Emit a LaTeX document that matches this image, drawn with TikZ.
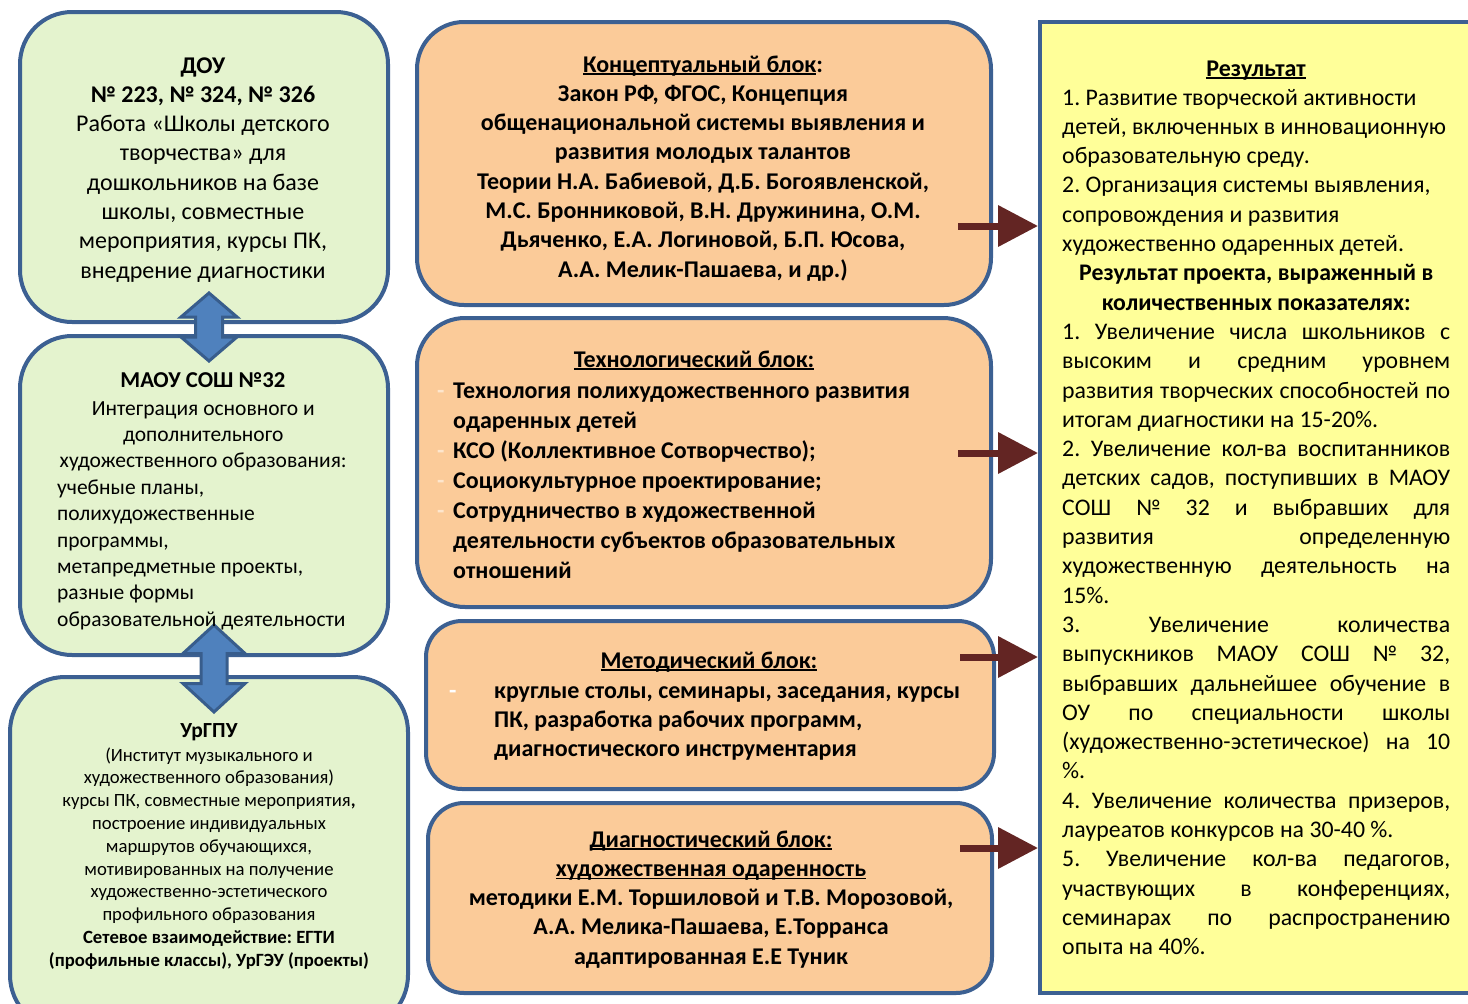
\documentclass[tikz,border=0pt]{standalone}
\usepackage{fontspec}
\setmainfont{Carlito}
\usetikzlibrary{arrows.meta,calc}
\definecolor{bord}{RGB}{60,96,146}
\definecolor{greenf}{RGB}{228,243,206}
\definecolor{orangef}{RGB}{251,203,153}
\definecolor{yellowf}{RGB}{255,255,153}
\definecolor{arrblue}{RGB}{79,129,189}
\definecolor{arrbord}{RGB}{56,93,140}
\definecolor{arrred}{RGB}{99,37,35}
\definecolor{dashc}{RGB}{253,230,205}
\newcommand\myul[1]{\leavevmode\setbox0\hbox{#1}\rlap{\rule[-3pt]{\wd0}{1.6pt}}\box0}
\newcommand\jline[1]{\makebox[\linewidth][s]{#1}}
\newcommand\cenline[1]{\makebox[\linewidth][c]{#1}}
\frenchspacing
\begin{document}
\begin{tikzpicture}[x=1pt,y=-1pt]
\useasboundingbox (0,0) rectangle (1468,1004);
\clip (0,0) rectangle (1468,1004);
\tikzset{
  rbox/.style={draw=bord, line width=4pt, rounded corners=#1pt, inner sep=0pt},
  greenbox/.style={rbox=#1, fill=greenf},
  orangebox/.style={rbox=#1, fill=orangef},
  resbox/.style={draw=bord, line width=4pt, fill=yellowf, inner sep=0pt},
  txt/.style={inner sep=0pt, anchor=base},
  txtl/.style={inner sep=0pt, anchor=base west},
  redarrow/.style={draw=arrred, line width=7pt, -{Triangle[length=40pt,width=40pt,fill=arrred]}},
  dblarrow/.style={fill=arrblue, draw=arrbord, line width=3pt, line join=miter},
}
% boxes
\node[greenbox=52, minimum width=368pt, minimum height=310pt] (dou) at (204,167) {};
\node[greenbox=52, minimum width=368pt, minimum height=319pt] (maou) at (204,495.5) {};
\node[greenbox=55, minimum width=398pt, minimum height=353pt] (urg) at (209,853.5) {};
\node[orangebox=47, minimum width=574pt, minimum height=283pt] (konc) at (704,163.5) {};
\node[orangebox=48, minimum width=574pt, minimum height=289pt] (tech) at (704,462.5) {};
\node[orangebox=36, minimum width=568pt, minimum height=168pt] (meth) at (710,705) {};
\node[orangebox=36, minimum width=564pt, minimum height=190pt] (diag) at (710,898) {};
\node[resbox, minimum width=460pt, minimum height=971pt] (res) at (1270,507.5) {};

% double arrows
\coordinate (d1) at ($(dou.south)!0.5!(maou.north)+(5,-2)$);
\draw[dblarrow] ($(d1)+(0,-34)$) -- ($(d1)+(28,-10)$) -- ($(d1)+(13.5,-10)$) -- ($(d1)+(13.5,10)$)
  -- ($(d1)+(28,10)$) -- ($(d1)+(0,34)$) -- ($(d1)+(-28,10)$) -- ($(d1)+(-13.5,10)$)
  -- ($(d1)+(-13.5,-10)$) -- ($(d1)+(-28,-10)$) -- cycle;
\coordinate (d2) at ($(maou.south)!0.5!(urg.north)+(7.5,2.5)$);
\draw[dblarrow] ($(d2)+(0,-43.5)$) -- ($(d2)+(31,-15)$) -- ($(d2)+(13,-15)$) -- ($(d2)+(13,15)$)
  -- ($(d2)+(31,15)$) -- ($(d2)+(0,43.5)$) -- ($(d2)+(-31,15)$) -- ($(d2)+(-13,15)$)
  -- ($(d2)+(-13,-15)$) -- ($(d2)+(-31,-15)$) -- cycle;

% red arrows
\coordinate (r1) at (958,226);
\coordinate (r2) at (958,453);
\coordinate (r3) at (960,657);
\coordinate (r4) at (960,848);
\draw[redarrow] (r1) -- (r1 -| res.west);
\draw[redarrow] (r2) -- (r2 -| res.west);
\draw[redarrow] (r3) -- (r3 -| res.west);
\draw[redarrow] (r4) -- (r4 -| res.west);

% texts: DOU
\node[txt] (doutext) at (203,73) {\parbox[t]{360pt}{\centering\fontsize{24}{29.3}\selectfont
\textbf{ДОУ}\\
\textbf{№ 223, № 324, № 326}\\
Работа «Школы детского\\
творчества» для\\
дошкольников на базе\\
школы, совместные\\
мероприятия, курсы ПК,\\
внедрение диагностики}};

% MAOU
\node[txt] (maoutitle) at (203,387) {\fontsize{22.7}{26}\selectfont\textbf{МАОУ СОШ №32}};
\node[txtl] (maoutext) at (57,415) {\parbox[t]{292pt}{\raggedright\fontsize{21.5}{26.4}\selectfont
\cenline{Интеграция основного и}\\
\cenline{дополнительного}\\
\cenline{художественного образования:}\\
учебные планы,\\
полихудожественные\\
программы,\\
метапредметные проекты,\\
разные формы\\
образовательной деятельности}};

% UrGPU
\node[txt] (urgtitle) at (209,737) {\fontsize{21.5}{24}\selectfont\textbf{УрГПУ}};
\node[txt] (urgtext) at (209,761) {\parbox[t]{380pt}{\centering\fontsize{18.7}{22.8}\selectfont
(Институт музыкального и\\
художественного образования)\\
курсы ПК, совместные мероприятия\textbf{,}\\
построение индивидуальных\\
маршрутов обучающихся,\\
мотивированных на получение\\
художественно-эстетического\\
профильного образования\\
\textbf{Сетевое взаимодействие: ЕГТИ}\\
\textbf{(профильные классы), УрГЭУ (проекты)}}};

% Konceptual
\node[txt] (konctext) at (703,72) {\parbox[t]{560pt}{\centering\bfseries\fontsize{24}{29.3}\selectfont
\myul{Концептуальный блок}:\\
Закон РФ, ФГОС, Концепция\\
общенациональной системы выявления и\\
развития молодых талантов\\
Теории Н.А. Бабиевой, Д.Б. Богоявленской,\\
М.С. Бронниковой, В.Н. Дружинина, О.М.\\
Дьяченко, Е.А. Логиновой, Б.П. Юсова,\\
А.А. Мелик-Пашаева, и др.)}};

% Tech
\node[txt] (techtitle) at (694,367) {\fontsize{24}{29.3}\selectfont\bfseries\myul{Технологический блок:}};
\node[txtl] (techtext) at (437,398) {\parbox[t]{540pt}{\raggedright\bfseries\fontsize{24}{30}\selectfont
\makebox[16pt][l]{\color{dashc}-}Технология полихудожественного развития\\
\hspace*{16pt}одаренных детей\\
\makebox[16pt][l]{\color{dashc}-}КСО (Коллективное Сотворчество);\\
\makebox[16pt][l]{\color{dashc}-}Социокультурное проектирование;\\
\makebox[16pt][l]{\color{dashc}-}Сотрудничество в художественной\\
\hspace*{16pt}деятельности субъектов образовательных\\
\hspace*{16pt}отношений}};

% Method
\node[txt] (methtitle) at (709,668) {\fontsize{24}{29.3}\selectfont\bfseries\myul{Методический блок:}};
\node[txtl] (methdash) at (449,698) {\fontsize{24}{29.3}\selectfont\bfseries\color{white}-};
\node[txtl] (methtext) at (494,698) {\parbox[t]{480pt}{\raggedright\bfseries\fontsize{24}{29}\selectfont
круглые столы, семинары, заседания, курсы\\
ПК, разработка рабочих программ,\\
диагностического инструментария}};

% Diag
\node[txt] (diagtext) at (711,847) {\parbox[t]{550pt}{\centering\bfseries\fontsize{24}{29.3}\selectfont
\myul{Диагностический блок:}\\
\myul{художественная одаренность}\\
методики Е.М. Торшиловой и Т.В. Морозовой,\\
А.А. Мелика-Пашаева, Е.Торранса\\
адаптированная Е.Е Туник}};

% Result
\node[txt] (restitle) at (1256,76) {\fontsize{24}{29.3}\selectfont\bfseries\myul{Результат}};
\node[txtl] (restext) at (1062,105) {\parbox[t]{388pt}{\raggedright\fontsize{23.8}{29.3}\selectfont
1. Развитие творческой активности\\
детей, включенных в инновационную\\
образовательную среду.\\
2. Организация системы выявления,\\
сопровождения и развития\\
художественно одаренных детей.\\
\cenline{\textbf{Результат проекта, выраженный в}}\\
\cenline{\textbf{количественных показателях:}}\\
\jline{1. Увеличение числа школьников с}\\
\jline{высоким и средним уровнем}\\
\jline{развития творческих способностей по}\\
итогам диагностики на 15-20\%.\\
\jline{2. Увеличение кол-ва воспитанников}\\
\jline{детских садов, поступивших в МАОУ}\\
\jline{СОШ № 32 и выбравших для}\\
\jline{развития определенную}\\
\jline{художественную деятельность на}\\
15\%.\\
\jline{3. Увеличение количества}\\
\jline{выпускников МАОУ СОШ № 32,}\\
\jline{выбравших дальнейшее обучение в}\\
\jline{ОУ по специальности школы}\\
\jline{(художественно-эстетическое) на 10}\\
\%.\\
\jline{4. Увеличение количества призеров,}\\
лауреатов конкурсов на 30-40 \%.\\
\jline{5. Увеличение кол-ва педагогов,}\\
\jline{участвующих в конференциях,}\\
\jline{семинарах по распространению}\\
опыта на 40\%.}};
\end{tikzpicture}
\end{document}
